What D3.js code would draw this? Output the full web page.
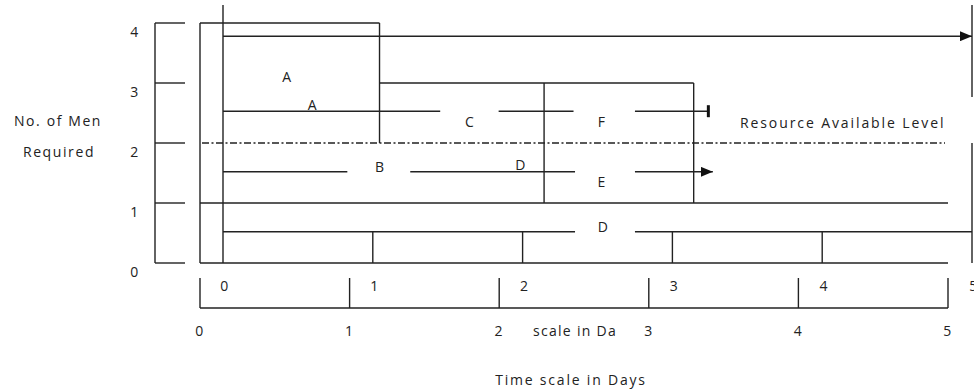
<!DOCTYPE html>
<html>
<head>
<meta charset="utf-8">
<script src="https://cdn.jsdelivr.net/npm/d3@7"></script>
<style>
  body { margin: 0; background: #fff; }
  svg { display: block; }
  text { font-family: "Open Sans", sans-serif; fill: #222; font-size: 14px; letter-spacing: 1.3px; }
  .ln { stroke: #222; stroke-width: 1.4; fill: none; }
</style>
</head>
<body>
<script>
// time scale in days and men scale
var days = [0, 1, 2, 3, 4, 5];
var menTicks = [0, 1, 2, 3, 4];
var availableLevel = 2;

// resource histogram outline, [day1, men1, day2, men2] on the outer day scale
var histLines = [
    [0, 0, 0, 4], [0, 4, 1.2, 4], [1.2, 4, 1.2, 2],
    [1.2, 3, 3.3, 3], [3.3, 3, 3.3, 1], [2.3, 3, 2.3, 1],
    [0, 1, 5, 1], [0, 0, 5, 0]
];

// activity arrows: row level (men), segments [start, end] in days, end marker
var activityRows = [
    { level: 3.78, segs: [[0, 5]], end: 'arrow' },
    { level: 2.53, segs: [[0, 1.45], [1.84, 2.34], [2.75, 3.24]], end: 'bar' },
    { level: 1.52, segs: [[0, 0.83], [1.25, 2.35], [2.75, 3.27]], end: 'arrow' },
    { level: 0.52, segs: [[0, 2.35], [2.75, 5]], end: 'none' }
];
var rowTicks = [1, 2, 3, 4];   // day ticks hanging under the lowest row

// activity labels: name, day, level of the baseline
var activityLabels = [
    ['A', 0.43, 3.02], ['A', 0.6, 2.55], ['C', 1.65, 2.27], ['F', 2.53, 2.27],
    ['B', 1.05, 1.52], ['D', 1.99, 1.55], ['E', 2.53, 1.27], ['D', 2.54, 0.52]
];

var width = 974, height = 391;
var svg = d3.select('body').append('svg')
    .attr('width', width).attr('height', height);

// inner day scale (activities) and outer day scale (histogram frame)
var xs = d3.scaleLinear().domain([0, 5]).range([223, 972]);
var xb = d3.scaleLinear().domain([0, 5]).range([200, 948]);
var y = d3.scaleLinear().domain([0, 4]).range([263, 23]);

var defs = svg.append('defs');
defs.append('marker')
    .attr('id', 'arrow').attr('viewBox', '0 0 12 10')
    .attr('refX', 12).attr('refY', 5)
    .attr('markerWidth', 12).attr('markerHeight', 10)
    .attr('markerUnits', 'userSpaceOnUse').attr('orient', 'auto')
  .append('path').attr('d', 'M0,0L12,5L0,10Z').attr('fill', '#111');

function line(x1, y1, x2, y2) {
    return svg.append('line').attr('class', 'ln')
        .attr('x1', x1).attr('y1', y1).attr('x2', x2).attr('y2', y2);
}

function label(x, yy, s, anchor) {
    return svg.append('text').attr('x', x).attr('y', yy)
        .attr('text-anchor', anchor || 'middle').text(s);
}

/*
 * Left men axis: bracket with ticks to the right
 */
line(155, y(0), 155, y(4));
menTicks.forEach(function(m) {
    line(155, y(m), 185, y(m));
    label(135, y(m) + 14, m);
});
label(58, 126, 'No. of Men').style('letter-spacing', '1.6px');
label(59, 157, 'Required').style('letter-spacing', '1.6px');

/*
 * Histogram frame
 */
histLines.forEach(function(s) {
    line(xb(s[0]), y(s[1]), xb(s[2]), y(s[3]));
});

// resource available level
line(xb(0) + 2, y(availableLevel), xb(4.98), y(availableLevel))
    .attr('stroke-dasharray', '7,2.5,2,2.5');
label(740, y(availableLevel) - 15, 'Resource Available Level', 'start')
    .style('letter-spacing', '1.9px');

// start line of activities and right boundary
line(xs(0), 5, xs(0), y(0));
line(xs(5), 5, xs(5), 97);
line(xs(5), y(availableLevel), xs(5), y(0));

/*
 * Activity arrows
 */
activityRows.forEach(function(r) {
    r.segs.forEach(function(s, i) {
        var l = line(xs(s[0]), y(r.level), xs(s[1]), y(r.level));
        if (i == r.segs.length - 1 && r.end == 'arrow')
            l.attr('marker-end', 'url(#arrow)');
        if (i == r.segs.length - 1 && r.end == 'bar')
            svg.append('line').attr('x1', xs(s[1])).attr('x2', xs(s[1]))
                .attr('y1', y(r.level) - 6).attr('y2', y(r.level) + 6)
                .attr('stroke', '#111').attr('stroke-width', 3);
    });
});
var lowRow = activityRows[activityRows.length - 1].level;
rowTicks.forEach(function(d) {
    line(xs(d), y(lowRow), xs(d), y(0));
});

activityLabels.forEach(function(a) {
    label(xs(a[1]), y(a[2]), a[0]);
});

/*
 * Bottom day scales
 */
line(xb(0), 308, xb(5), 308);
days.forEach(function(d) {
    line(xb(d), 278, xb(d), 308);
    label(xs(d) + 2, 291, d);
    label(xb(d), 336, d);
});
label(575, 336, 'scale in Da');
label(571, 385, 'Time scale in Days').style('letter-spacing', '1.8px');
</script>
</body>
</html>
